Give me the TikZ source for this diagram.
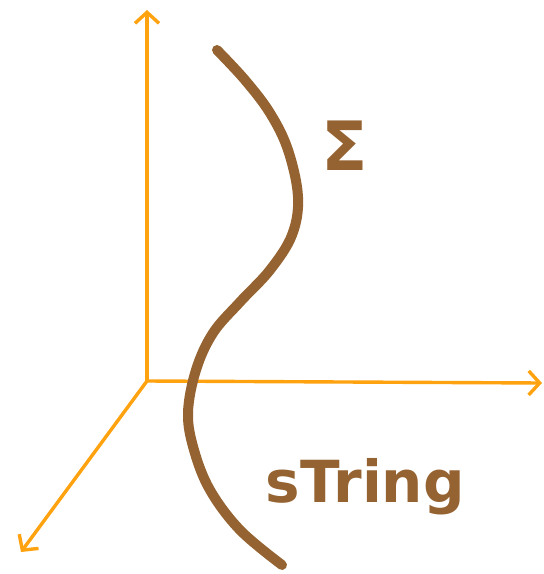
\documentclass[tikz,border=0pt]{standalone}
\usepackage{tikz}
\usepackage{xcolor}
\usepackage{fontspec}
\newfontfamily\handfont{DejaVu Sans}
\usetikzlibrary{arrows.meta}
\definecolor{axisorange}{HTML}{FFA20F}
\definecolor{stringbrown}{HTML}{956331}
\tikzset{every picture/.append style={thick}}
\tikzset{
  axis/.style={axisorange, line width=3.4pt, line cap=round, line join=round,
    -{Straight Barb[length=11pt, width=24pt, line width=3.4pt]}},
  strand/.style={stringbrown, line width=10pt, line cap=round},
  label/.style={text=stringbrown},
}

\begin{document}
\begin{tikzpicture}[x=1pt, y=-1pt]
        \useasboundingbox (0,0) rectangle (544,574);

        % Axes
        \coordinate (O) at (147,381);
        \coordinate (up) at (147,10);
        \coordinate (right) at (542,383);
        \coordinate (front) at (21,552);
        \draw[axis] (O) -- (up);
        \draw[axis] (O) -- (right);
        \draw[axis] (O) -- (front);

        % The string
        \draw[strand] plot[smooth, tension=0.6] coordinates {
          (217,50) (245,80) (270,113) (288,150) (298,197) (292,235)
          (270,270) (240,302) (213,333) (196,370) (188,413) (194,450)
          (210,490) (240,530) (282,565)};

        % Labels
        \node[label, font=\handfont\bfseries\fontsize{68}{68}\selectfont] (sigma) at (345,146) {Σ};
        \node[label, font=\handfont\bfseries\fontsize{58}{58}\selectfont, anchor=base west] (name) at (262,502) {sTring};
    \end{tikzpicture}
\end{document}
